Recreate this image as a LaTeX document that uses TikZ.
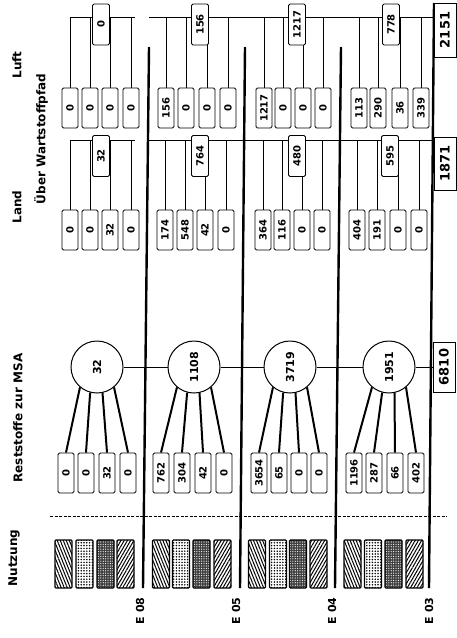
\documentclass[tikz,border=0pt]{standalone}
\usepackage{fontspec}
\setmainfont{DejaVu Sans}
\usetikzlibrary{patterns,patterns.meta}
\newcommand\rtxt[1]{\rotatebox{90}{#1}}
\begin{document}
\begin{tikzpicture}[x=1pt,y=-1pt,
  vbox/.style={draw, line width=0.9pt, rounded corners=1.5pt, minimum width=16pt, minimum height=40pt, inner sep=0pt, fill=white, font=\bfseries\fontsize{10}{10}\selectfont},
  sumbox/.style={vbox, minimum width=17pt, minimum height=41pt},
  totbox/.style={draw, line width=0.9pt, minimum width=22pt, inner sep=0pt, fill=white, font=\bfseries\fontsize{13}{13}\selectfont},
  circ/.style={draw, circle, line width=1pt, minimum size=52pt, inner sep=0pt, fill=white, font=\bfseries\fontsize{11}{11}\selectfont},
  conn/.style={line width=0.6pt},
  fan/.style={line width=2pt},
  axisline/.style={line width=2.4pt},
  chain/.style={line width=0.9pt},
  head/.style={rotate=90, font=\bfseries\fontsize{12}{12}\selectfont, inner sep=0pt},
  lab/.style={rotate=90, font=\bfseries\fontsize{11}{11}\selectfont, inner sep=0pt},
  pat/.style={draw, line width=1.1pt, rounded corners=1pt, minimum width=17pt, minimum height=48pt, inner sep=0pt}
]
\useasboundingbox (0,0) rectangle (456,638);
\fill[white] (0,0) rectangle (456,638);

% headings
\node[head] (hLuft) at (17,65) {Luft};
\node[head] (hWart) at (41,139) {Über Wartstoffpfad};
\node[head] (hLand) at (17,207) {Land};
\node[head] (hRest) at (18,418) {Reststoffe zur MSA};
\node[head] (hNutz) at (14,558) {Nutzung};

% thick separating lines
\coordinate (A1t) at (149,47); \coordinate (A1b) at (143,588);
\coordinate (A2t) at (245,47); \coordinate (A2b) at (240,588);
\coordinate (A3t) at (341,47); \coordinate (A3b) at (335,588);
\coordinate (A4t) at (434,3);  \coordinate (A4b) at (429,588);
\draw[axisline] (A1t) -- (A1b);
\draw[axisline] (A2t) -- (A2b);
\draw[axisline] (A3t) -- (A3b);
\draw[axisline] (A4t) -- (A4b);

% brackets
\coordinate (LuA) at (70,17); \coordinate (LuB) at (135,17);
\coordinate (LuC) at (149,17); \coordinate (LuD) at (433,17);
\coordinate (LaA) at (70,140); \coordinate (LaB) at (135,140);
\coordinate (LaC) at (148,140); \coordinate (LaD) at (433,140);
\draw[conn] (LuA) -- (LuB);
\draw[conn] (LuC) -- (LuD);
\draw[conn] (LaA) -- (LaB);
\draw[conn] (LaC) -- (LaD);

% Luft boxes
\foreach \g/\lst in {1/{70/0,90/0,110/0,131/0}, 2/{166/156,186/0,207/0,228/0}, 3/{264/1217,283/0,303/0,323/0}, 4/{359/113,378/290,400/36,421/339}} {
  \foreach \x/\v [count=\i] in \lst {
    \node[vbox] (Lu\g\i) at (\x,108) {\rtxt{\v}};
    \draw[conn] (Lu\g\i.north) -- (Lu\g\i.north |- LuA);
  }
}
% Land boxes
\foreach \g/\lst in {1/{70/0,90/0,110/32,131/0}, 2/{165/174,185/548,205/42,226/0}, 3/{263/364,282/116,302/0,322/0}, 4/{357/404,377/191,398/0,419/0}} {
  \foreach \x/\v [count=\i] in \lst {
    \node[vbox] (La\g\i) at (\x,230) {\rtxt{\v}};
    \draw[conn] (La\g\i.north) -- (La\g\i.north |- LaA);
  }
}
% sum boxes
\node[sumbox] (SLu1) at (101,24.5) {\rtxt{0}};
\node[sumbox] (SLu2) at (200,24.5) {\rtxt{156}};
\node[sumbox] (SLu3) at (297,24.5) {\rtxt{1217}};
\node[sumbox] (SLu4) at (391,24.5) {\rtxt{778}};
\node[sumbox] (SLa1) at (101,156) {\rtxt{32}};
\node[sumbox] (SLa2) at (200,156) {\rtxt{764}};
\node[sumbox] (SLa3) at (297,156) {\rtxt{480}};
\node[sumbox] (SLa4) at (390,156) {\rtxt{595}};

% totals
\node[totbox, minimum height=54pt] (T1) at (445,30) {\rtxt{2151}};
\node[totbox, minimum height=53pt] (T2) at (445,163.5) {\rtxt{1871}};
\node[totbox, minimum height=50pt] (T3) at (444,367) {\rtxt{6810}};

% circles
\node[circ] (C1) at (97,367) {\rtxt{32}};
\node[circ] (C2) at (194,367) {\rtxt{1108}};
\node[circ] (C3) at (290,367) {\rtxt{3719}};
\node[circ] (C4) at (389,367) {\rtxt{1951}};
\draw[chain] (C1.east) -- (C2.west);
\draw[chain] (C2.east) -- (C3.west);
\draw[chain] (C3.east) -- (C4.west);
\draw[chain] (C4.east) -- (T3.west);

% Reststoffe boxes
\foreach \g/\lst in {1/{66/0,86/0,107/32,128/0}, 2/{161/762,182/304,203/42,224/0}, 3/{259/3654,279/65,299/0,319/0}, 4/{354/1196,374/287,395/66,416/402}} {
  \foreach \x/\v [count=\i] in \lst {
    \node[vbox] (R\g\i) at (\x,473) {\rtxt{\v}};
  }
  \draw[fan] (R\g1.north) -- (C\g.-130);
  \draw[fan] (R\g2.north) -- (C\g.-105);
  \draw[fan] (R\g3.north) -- (C\g.-78);
  \draw[fan] (R\g4.north) -- (C\g.-50);
}

% dashed line
\coordinate (D1) at (50,516); \coordinate (D2) at (447,516);
\draw[line width=0.6pt, dash pattern=on 3pt off 1.5pt] (D1) -- (D2);

% Nutzung pattern boxes
\foreach \g/\xa/\xb/\xc/\xd in {1/63.5/84.5/105.5/125.5, 2/161/181/201.5/222.5, 3/257/278/298/318.5, 4/352.5/373/393.5/414.5} {
  \node[pat, pattern={Lines[angle=112,distance=2.8pt,line width=1pt]}] (N\g1) at (\xa,564) {};
  \node[pat, pattern={Dots[distance=2.8pt,radius=0.85pt]}] (N\g2) at (\xb,564) {};
  \node[pat, preaction={fill=black!75}, pattern={Dots[distance=2.4pt,radius=0.6pt]}, pattern color=white] (N\g3) at (\xc,564) {};
  \node[pat, pattern={Lines[angle=60,distance=2.8pt,line width=1pt]}] (N\g4) at (\xd,564) {};
}

% row labels
\node[lab] (E1) at (140,611) {E 08};
\node[lab] (E2) at (236,611) {E 05};
\node[lab] (E3) at (332,611) {E 04};
\node[lab] (E4) at (429,611) {E 03};
\end{tikzpicture}
\end{document}
